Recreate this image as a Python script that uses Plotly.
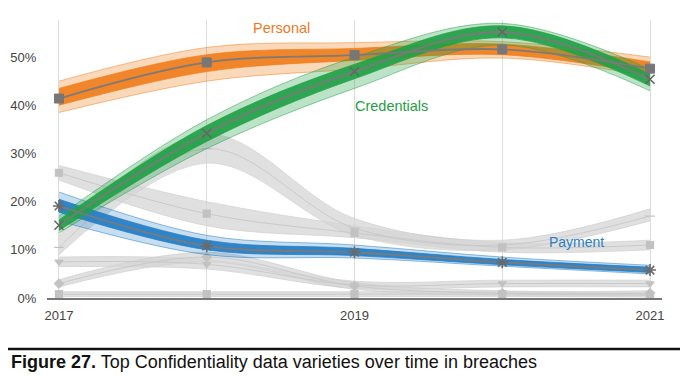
import plotly.graph_objects as go

years = [2017, 2018, 2019, 2020, 2021]
x_tick_labels = ["2017", "2019", "2021"]
y_ticks = [0, 10, 20, 30, 40, 50]

# Highlighted series (percent of breaches): mean line, dense core and outer envelope of sampled lines
personal_mean = [41.4, 48.9, 50.4, 51.6, 47.6]
personal_core_lo = [40.0, 47.0, 49.3, 50.5, 46.5]
personal_core_hi = [43.5, 50.5, 51.8, 52.7, 49.0]
personal_lo = [38.5, 45.0, 47.5, 49.8, 46.0]
personal_hi = [45.0, 52.0, 53.0, 53.2, 50.0]

credentials_mean = [15.1, 34.2, 47.0, 55.2, 45.4]
credentials_core_lo = [14.0, 32.5, 45.5, 54.0, 44.0]
credentials_core_hi = [16.2, 35.8, 48.5, 56.5, 46.5]
credentials_lo = [13.5, 31.0, 43.5, 52.5, 43.0]
credentials_hi = [17.0, 37.0, 50.0, 57.0, 47.5]

payment_mean = [19.1, 10.8, 9.5, 7.4, 5.8]
payment_core_lo = [17.8, 10.0, 8.8, 6.9, 5.3]
payment_core_hi = [20.5, 12.0, 10.3, 8.0, 6.4]
payment_lo = [16.0, 9.0, 8.3, 6.6, 5.0]
payment_hi = [22.0, 13.0, 11.0, 8.5, 6.8]

# Other (grey) varieties
grey_a_mean = [26.0, 17.5, 13.5, 10.5, 11.0]
grey_a_lo = [24.5, 15.0, 12.5, 9.5, 10.0]
grey_a_hi = [27.5, 20.0, 15.0, 11.5, 12.0]

grey_b_mean = [10.5, 31.0, 14.5, 11.0, 17.0]
grey_b_lo = [9.0, 28.0, 13.0, 10.0, 16.0]
grey_b_hi = [13.0, 34.0, 16.5, 12.0, 18.5]

grey_c_mean = [7.5, 7.0, 2.7, 3.0, 3.0]
grey_c_lo = [6.5, 6.0, 2.0, 2.3, 2.3]
grey_c_hi = [8.5, 8.0, 3.5, 3.7, 3.7]

grey_d_mean = [3.0, 8.5, 2.5, 1.0, 1.0]
grey_d_lo = [2.3, 7.5, 1.8, 0.5, 0.5]
grey_d_hi = [3.8, 9.5, 3.2, 1.5, 1.5]

grey_e_mean = [0.8, 0.8, 0.8, 0.8, 0.6]
grey_e_lo = [0.3, 0.3, 0.3, 0.3, 0.2]
grey_e_hi = [1.3, 1.3, 1.3, 1.3, 1.0]

fig = go.Figure()


def fill_band(lo, hi, fill_rgba, edge_rgba, edge_w=0.8):
    fig.add_trace(go.Scatter(x=years, y=lo, mode="lines", line=dict(color=edge_rgba, width=edge_w, shape="spline"),
                             hoverinfo="skip", showlegend=False))
    fig.add_trace(go.Scatter(x=years, y=hi, mode="lines", line=dict(color=edge_rgba, width=edge_w, shape="spline"),
                             fill="tonexty", fillcolor=fill_rgba, hoverinfo="skip", showlegend=False))


def mean_line(mean, color, width, symbol, msize, mcolor, mline=1.2):
    fig.add_trace(go.Scatter(x=years, y=mean, mode="lines+markers",
                             line=dict(color=color, width=width, shape="spline"),
                             marker=dict(symbol=symbol, size=msize, color=mcolor,
                                         line=dict(color=mcolor, width=mline)),
                             hoverinfo="skip", showlegend=False))


# grey bands
for lo, hi in [(grey_a_lo, grey_a_hi), (grey_b_lo, grey_b_hi), (grey_c_lo, grey_c_hi),
               (grey_d_lo, grey_d_hi), (grey_e_lo, grey_e_hi)]:
    fill_band(lo, hi, "rgba(214,214,214,0.75)", "rgba(205,205,205,0.8)")

grey_symbols = ["square", "line-ew-open", "triangle-down", "diamond", "square"]
for mean, sym in zip([grey_a_mean, grey_b_mean, grey_c_mean, grey_d_mean, grey_e_mean], grey_symbols):
    mean_line(mean, "rgba(200,200,200,0.9)", 1, sym, 7, "#C2C2C2")

# coloured bands (outer stray lines, then dense core)
fill_band(payment_lo, payment_hi, "rgba(31,123,196,0.25)", "rgba(31,123,196,0.7)", 0.7)
fill_band(payment_core_lo, payment_core_hi, "rgba(31,123,196,0.9)", "rgba(31,123,196,0.9)", 0.8)
fill_band(personal_lo, personal_hi, "rgba(240,126,28,0.3)", "rgba(240,126,28,0.7)", 0.7)
fill_band(personal_core_lo, personal_core_hi, "rgba(240,126,28,0.92)", "rgba(240,126,28,0.9)", 0.8)
fill_band(credentials_lo, credentials_hi, "rgba(34,161,70,0.3)", "rgba(34,161,70,0.7)", 0.7)
fill_band(credentials_core_lo, credentials_core_hi, "rgba(34,161,70,0.92)", "rgba(34,161,70,0.9)", 0.8)

mean_line(payment_mean, "#7A7A7A", 1.8, "asterisk-open", 10, "#6A6A6A", 1.6)
mean_line(personal_mean, "#7A7A7A", 1.8, "square", 9, "#777777", 1)
mean_line(credentials_mean, "#7A7A7A", 1.8, "x-thin-open", 9, "#666666", 1.6)

label_font = "Liberation Sans, Arial, sans-serif"
fig.add_annotation(x=2018.503, y=56.0, text="Personal", showarrow=False,
                   font=dict(family=label_font, size=14.5, color="#EC7A1E"))
fig.add_annotation(x=2019.247, y=39.85, text="Credentials", showarrow=False,
                   font=dict(family=label_font, size=14.5, color="#1E9E44"))
fig.add_annotation(x=2020.499, y=11.6, text="Payment", showarrow=False,
                   font=dict(family=label_font, size=14, color="#2A7FC0"))

# caption rule and text
fig.add_shape(type="line", xref="paper", yref="paper", x0=-0.0634, x1=1.045, y0=-0.1835, y1=-0.1835,
              line=dict(color="#111111", width=2.5))
fig.add_annotation(xref="paper", yref="paper", x=-0.0618, y=-0.230, xanchor="left", yanchor="middle",
                   showarrow=False,
                   text="<b>Figure 27.</b> Top Confidentiality data varieties over time in breaches",
                   font=dict(family=label_font, size=18, color="#111111"))

# The page body has an 8px margin, so the figure is sized/margined to keep the plot area in place
fig.update_layout(
    width=680, height=368,
    margin=dict(l=39, r=26, t=12, b=78, autoexpand=False),
    paper_bgcolor="white", plot_bgcolor="white",
    font=dict(family=label_font, size=13, color="#444444"),
    xaxis=dict(range=[2016.919, 2021.081], tickmode="array", tickvals=[2017, 2019, 2021],
               ticktext=x_tick_labels, showgrid=True, gridcolor="#DCDCDC", gridwidth=1,
               minor=dict(tickmode="array", tickvals=years, showgrid=True, gridcolor="#DCDCDC", gridwidth=1),
               showline=True, linecolor="#777777", linewidth=1.5, zeroline=False,
               ticks="outside", ticklen=5, tickcolor="rgba(0,0,0,0)",
               tickfont=dict(size=13, color="#444444")),
    yaxis=dict(range=[0, 57.7], tickmode="array", tickvals=y_ticks,
               ticktext=[f"{v}%" for v in y_ticks], showgrid=False, zeroline=False, showline=False,
               ticks="outside", ticklen=7, tickcolor="rgba(0,0,0,0)",
               tickfont=dict(size=13, color="#444444")),
)

fig.write_html("out.html")
